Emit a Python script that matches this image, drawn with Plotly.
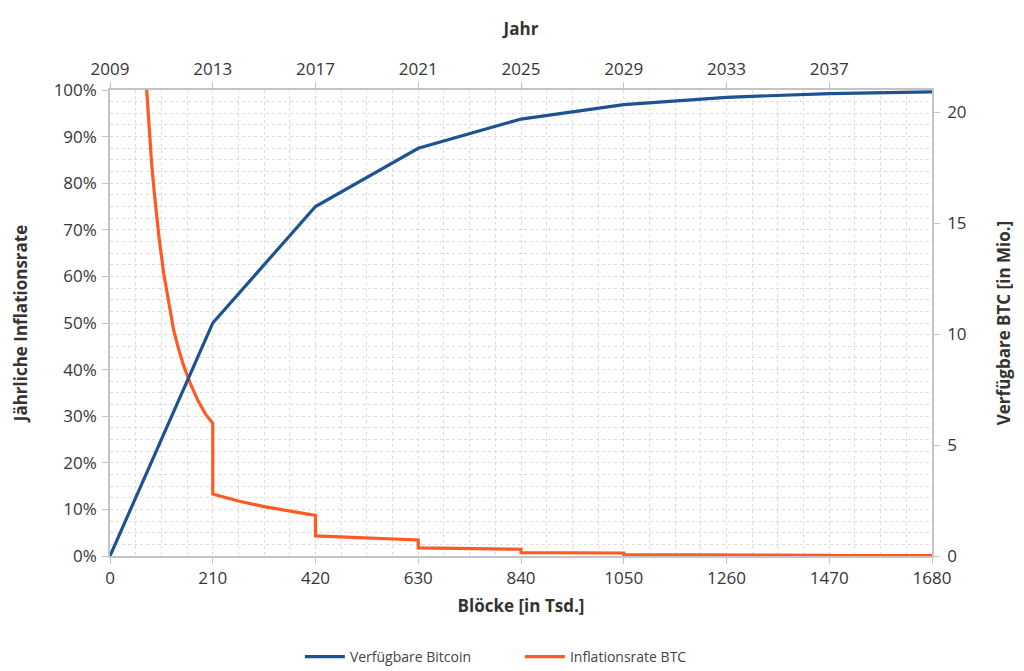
import plotly.graph_objects as go

# --- Data ---
supply_blocks = [0, 210, 420, 630, 840, 1050, 1260, 1470, 1680]          # Tsd. Blöcke
supply_mio = [0, 10.5, 15.75, 18.375, 19.69, 20.34, 20.67, 20.84, 20.92]   # Mio. BTC

infl_blocks = [75, 80, 85, 90, 95, 100, 110, 120, 130, 140, 150, 165, 180, 195, 210,
               210, 262.5, 315, 367.5, 420,
               420, 525, 630,
               630, 735, 840,
               840, 945, 1050,
               1050, 1155, 1260,
               1260, 1365, 1470,
               1470, 1575, 1680]
infl_pct = [100, 91.5, 84.3, 78.5, 73.5, 68.5, 60.5, 54, 48.5, 44.5, 41, 36.8, 33.3, 30.5, 28.5,
            13.3, 11.8, 10.6, 9.6, 8.7,
            4.3, 3.85, 3.45,
            1.75, 1.6, 1.45,
            0.72, 0.68, 0.64,
            0.3, 0.29, 0.28,
            0.14, 0.135, 0.13,
            0.07, 0.065, 0.06]

block_ticks = [0, 210, 420, 630, 840, 1050, 1260, 1470, 1680]
year_range = [2009, 2041]
year_ticks = [2009, 2013, 2017, 2021, 2025, 2029, 2033, 2037]
pct_ticks = list(range(0, 101, 10))
pct_labels = [f"{v}%" for v in pct_ticks]
btc_ticks = [0, 5, 10, 15, 20]

BLUE = "#1D5390"
ORANGE = "#FF5A23"
GRID = "#dcdcdc"
AXIS = "#c4c4c4"
TICKFONT = dict(family="Open Sans", size=17, color="#363636")
TITLEFONT = dict(family="Open Sans", size=17, color="#333333", weight="bold")

fig = go.Figure()
fig.add_trace(go.Scatter(x=supply_blocks, y=supply_mio, mode="lines", name="Verfügbare Bitcoin",
                         line=dict(color=BLUE, width=3.2), yaxis="y2"))
fig.add_trace(go.Scatter(x=infl_blocks, y=infl_pct, mode="lines", name="Inflationsrate BTC",
                         line=dict(color=ORANGE, width=3.2), yaxis="y"))
# invisible helper trace so the top year axis is drawn
fig.add_trace(go.Scatter(x=year_range, y=[0, 0], mode="lines", line=dict(width=0, color="rgba(0,0,0,0)"),
                         xaxis="x2", yaxis="y", showlegend=False, hoverinfo="skip"))

fig.update_layout(
    width=1016, height=663,
    margin=dict(l=102, r=92, t=82, b=115, autoexpand=False),
    paper_bgcolor="white", plot_bgcolor="white",
    font=dict(family="Open Sans", color="#444"),
    showlegend=True,
    legend=dict(orientation="h", x=0.231, xanchor="left", yref="container", y=0.0211, yanchor="middle",
                entrywidth=165, itemwidth=40,
                font=dict(family="Open Sans", size=14, color="#444")),
    xaxis=dict(range=[0, 1680], tickvals=block_ticks, tickfont=TICKFONT, automargin=False,
               title=dict(text="Blöcke [in Tsd.]", font=TITLEFONT, standoff=12),
               showline=True, linecolor=AXIS, linewidth=1.5, ticks="outside", ticklen=6,
               tickcolor=AXIS, showgrid=True, gridcolor=GRID, griddash="dot", zeroline=False,
               minor=dict(dtick=52.5, tick0=0, showgrid=True, gridcolor=GRID, griddash="dot")),
    xaxis2=dict(range=year_range, overlaying="x", side="top", tickvals=year_ticks, automargin=False,
                tickfont=TICKFONT, title=dict(text="Jahr", font=TITLEFONT, standoff=18),
                showline=True, linecolor=AXIS, linewidth=1.5, ticks="outside", ticklen=6,
                tickcolor=AXIS, showgrid=False, zeroline=False),
    yaxis=dict(range=[0, 100], tickvals=pct_ticks, ticktext=pct_labels, tickfont=TICKFONT,
               automargin=False, ticklabelstandoff=2,
               title=dict(text="Jährliche Inflationsrate", font=TITLEFONT, standoff=22),
               showline=True, linecolor=AXIS, linewidth=1.5, ticks="outside", ticklen=6,
               tickcolor=AXIS, showgrid=True, gridcolor=GRID, griddash="dot", zeroline=False,
               minor=dict(dtick=2.5, tick0=0, showgrid=True, gridcolor=GRID, griddash="dot")),
    yaxis2=dict(range=[0, 21], overlaying="y", side="right", tickvals=btc_ticks, tickfont=TICKFONT,
                automargin=False, ticklabelstandoff=4,
                title=dict(text="Verfügbare BTC [in Mio.]", font=TITLEFONT, standoff=32),
                showline=True, linecolor=AXIS, linewidth=1.5, ticks="outside", ticklen=6,
                tickcolor=AXIS, showgrid=False, zeroline=False),
)

fig.write_html("out.html")
